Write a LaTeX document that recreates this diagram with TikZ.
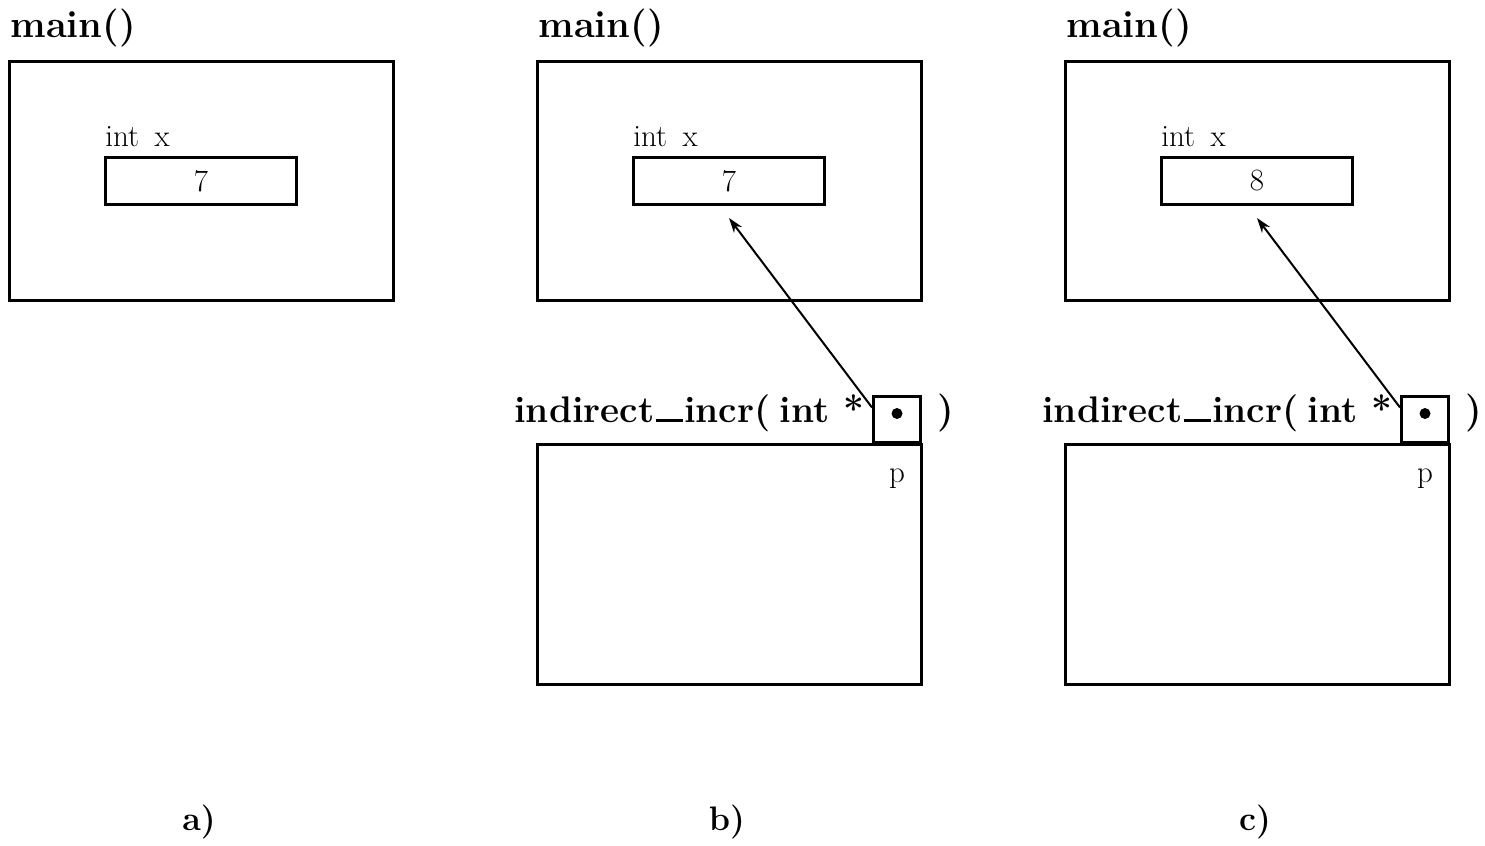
\documentclass[tikz,border=0pt]{standalone}
\usetikzlibrary{arrows.meta}
\newcommand{\rulescore}{\kern.03em\rule{.74em}{.08em}\kern.03em}
\begin{document}
\begin{tikzpicture}[x=0.5pt,y=-0.5pt,
  frame/.style={draw,line width=1.5pt,rectangle,inner sep=0pt,minimum width=192pt,minimum height=119.5pt},
  varbox/.style={draw,line width=1.5pt,rectangle,inner sep=0pt,minimum width=95.5pt,minimum height=23.5pt,font=\fontsize{15.5}{18}\selectfont},
  ptrbox/.style={draw,line width=1.5pt,rectangle,inner sep=0pt,minimum width=23.5pt,minimum height=23pt},
  title/.style={anchor=base west,inner sep=0pt,font=\fontsize{19}{22}\selectfont\bfseries},
  fntitle/.style={anchor=base west,inner sep=0pt,font=\fontsize{18.5}{22}\selectfont\bfseries},
  small/.style={inner sep=0pt,font=\fontsize{15.5}{18}\selectfont},
  caption/.style={anchor=base,inner sep=0pt,font=\fontsize{17}{20}\selectfont\bfseries},
  ptrarrow/.style={line width=1pt,-{Stealth[length=7.5pt,width=5pt]}}]
\useasboundingbox (0,0) rectangle (1485,846);
% panel a
\node[title] (mainA) at (10,38) {main()};
\node[frame] (frameA) at (201.5,180.5) {};
\node[small,anchor=base west] (intA) at (105,146) {int\hspace{0.5em}x};
\node[varbox] (xA) at (201,181) {7};
\node[caption] (capA) at (199,830) {a)};
% panel b
\node[title] (mainB) at (538,38) {main()};
\node[frame] (frameB) at (729.5,180.5) {};
\node[small,anchor=base west] (intB) at (633,146) {int\hspace{0.5em}x};
\node[varbox] (xB) at (729,181) {7};
\node[fntitle] (fnB) at (514,422) {indirect\rulescore incr(\hspace{0.25em}int *};
\node[title] (parB) at (937,422) {)};
\node[frame,minimum height=120pt] (lowB) at (729,564.5) {};
\node[ptrbox] (pB) at (897,419.5) {};
\fill ([yshift=3pt]pB.center) circle (2.75pt);
\node[small,anchor=base] (pLabB) at (897,482) {p};
\draw[ptrarrow] ([yshift=-6.25pt]pB.north west) -- ([yshift=-6pt]xB.south);
\node[caption] (capB) at (727,830) {b)};
% panel c
\node[title] (mainC) at (1066,38) {main()};
\node[frame] (frameC) at (1257.5,180.5) {};
\node[small,anchor=base west] (intC) at (1161,146) {int\hspace{0.5em}x};
\node[varbox] (xC) at (1257,181) {8};
\node[fntitle] (fnC) at (1042,422) {indirect\rulescore incr(\hspace{0.25em}int *};
\node[title] (parC) at (1465,422) {)};
\node[frame,minimum height=120pt] (lowC) at (1257,564.5) {};
\node[ptrbox] (pC) at (1425,419.5) {};
\fill ([yshift=3pt]pC.center) circle (2.75pt);
\node[small,anchor=base] (pLabC) at (1425,482) {p};
\draw[ptrarrow] ([yshift=-6.25pt]pC.north west) -- ([yshift=-6pt]xC.south);
\node[caption] (capC) at (1255,830) {c)};
\end{tikzpicture}
\end{document}
